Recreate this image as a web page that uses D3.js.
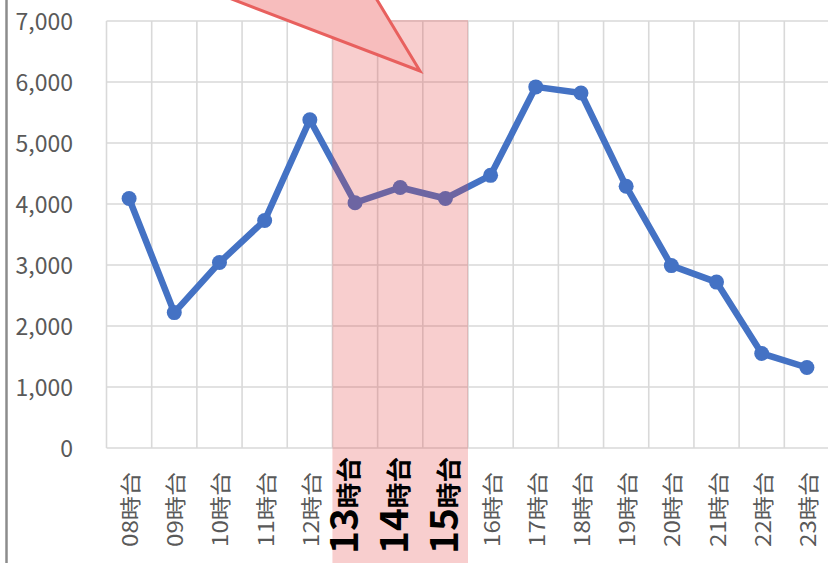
<!DOCTYPE html>
<html>
<head>
<meta charset="utf-8">
<script src="https://cdn.jsdelivr.net/npm/d3@7"></script>
<style>
  html, body { margin: 0; padding: 0; background: #fff; }
  svg { display: block; }
</style>
</head>
<body>
<script>
'use strict';
// 時間帯別の件数
const categories = ['08時台', '09時台', '10時台', '11時台', '12時台', '13時台', '14時台', '15時台',
  '16時台', '17時台', '18時台', '19時台', '20時台', '21時台', '22時台', '23時台'];
const values = [4090, 2220, 3040, 3730, 5380, 4020, 4270, 4090,
  4470, 5920, 5820, 4290, 2990, 2720, 1550, 1320];
const yTicks = [0, 1000, 2000, 3000, 4000, 5000, 6000, 7000];
const highlighted = ['13時台', '14時台', '15時台'];

const W = 828, H = 563;
const FONT = '"Noto Sans CJK JP", "Noto Sans", sans-serif';
const GRID = '#d9d9d9';
const LABEL = '#595959';
const BLUE = '#4472c4';

const svg = d3.select('body').append('svg')
  .attr('width', W).attr('height', H)
  .attr('viewBox', `0 0 ${W} ${H}`);
svg.append('rect').attr('width', W).attr('height', H).attr('fill', '#fff');

const x = d3.scaleBand().domain(categories).range([106.5, 829.5]);
const y = d3.scaleLinear().domain([0, 7000]).range([448, 21]);
const cx = d => x(d) + x.bandwidth() / 2;

// left frame line
svg.append('line')
  .attr('x1', 6.5).attr('x2', 6.5).attr('y1', 0).attr('y2', H)
  .attr('stroke', '#8c8c8c').attr('stroke-width', 2.5);

// grid
const grid = svg.append('g').attr('stroke', GRID).attr('stroke-width', 1.6);
grid.selectAll('line.h').data(yTicks).join('line')
  .attr('x1', x.range()[0]).attr('x2', x.range()[1])
  .attr('y1', d => y(d)).attr('y2', d => y(d));
grid.selectAll('line.v').data(categories).join('line')
  .attr('x1', d => x(d)).attr('x2', d => x(d))
  .attr('y1', y(7000)).attr('y2', y(0));

// y axis labels
const yAxis = d3.axisLeft(y).tickValues(yTicks).tickSize(0).tickPadding(0)
  .tickFormat(d3.format(','));
svg.append('g').attr('transform', 'translate(73,0)').call(yAxis)
  .call(g => g.select('.domain').remove())
  .selectAll('text')
  .attr('font-family', FONT).attr('font-size', 23)
  .attr('fill', LABEL).attr('dy', '0.35em');

// line + markers
const line = d3.line().x((d, i) => cx(categories[i])).y(d => y(d));
svg.append('path').datum(values)
  .attr('d', line).attr('fill', 'none')
  .attr('stroke', BLUE).attr('stroke-width', 6.5)
  .attr('stroke-linejoin', 'round');
svg.append('g').selectAll('circle').data(values).join('circle')
  .attr('cx', (d, i) => cx(categories[i])).attr('cy', d => y(d))
  .attr('r', 7.5).attr('fill', BLUE);

// x labels (normal)
svg.append('g').selectAll('text')
  .data(categories.filter(c => !highlighted.includes(c))).join('text')
  .attr('transform', d => `translate(${cx(d)},472) rotate(-90)`)
  .attr('text-anchor', 'end')
  .attr('dominant-baseline', 'central')
  .attr('font-family', FONT).attr('font-size', 21)
  .attr('fill', LABEL)
  .attr('textLength', 75).attr('lengthAdjust', 'spacingAndGlyphs')
  .text(d => d);

// highlight band
const h0 = x(highlighted[0]);
const h1 = x(highlighted[highlighted.length - 1]) + x.bandwidth();
svg.append('rect')
  .attr('x', h0).attr('y', 20).attr('width', h1 - h0).attr('height', H - 20)
  .attr('fill', 'rgb(228,66,66)').attr('opacity', 0.26);

// x labels (highlighted, bold)
const hl = svg.append('g').selectAll('text').data(highlighted).join('text')
  .attr('transform', (d, i) => `translate(${cx(d) + (i - 1) * 5 + 8},457) rotate(-90)`)
  .attr('text-anchor', 'end')
  .attr('font-family', FONT).attr('font-weight', 700)
  .attr('fill', '#000')
  .attr('textLength', 97).attr('lengthAdjust', 'spacingAndGlyphs');
hl.append('tspan').attr('font-size', 38).text(d => d.slice(0, 2));
hl.append('tspan').attr('font-size', 25).text(d => d.slice(2));

// callout pointer
svg.append('path')
  .attr('d', 'M182,-20 L420,71 L365,-20 Z')
  .attr('fill', '#f7bdbd')
  .attr('stroke', '#e8605e').attr('stroke-width', 3)
  .attr('stroke-linejoin', 'miter');
</script>
</body>
</html>
